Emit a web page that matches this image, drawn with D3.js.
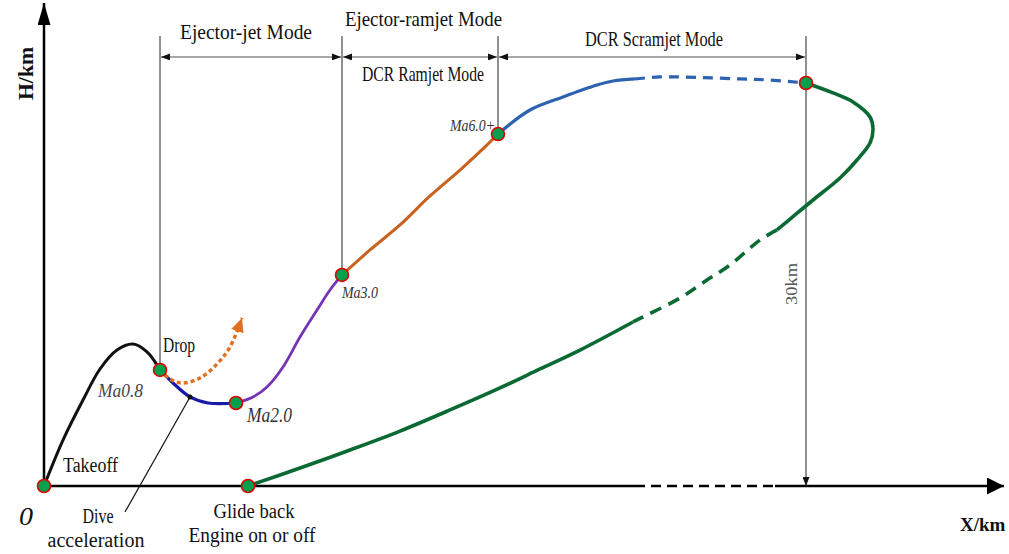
<!DOCTYPE html>
<html>
<head><meta charset="utf-8">
<title>Flight profile</title>
<style>
body { margin:0; background:#fff; }
svg text { font-family: "Liberation Serif", "DejaVu Serif", serif; fill:#111; }
</style>
</head>
<body>
<svg width="1009" height="554"></svg>
<script src="https://d3js.org/d3.v7.min.js"></script>
<script>
// trajectory pieces, each point is [X km, H km]
var climbBlack = [[0,0],[19,3.42],[39,6.40],[56,8.71],[73,10.12],[89,10.57],[103,9.98],[116,8.64]];
var diveBlue = [[116,8.64],[129,7.67],[146,6.63],[164,6.18],[192,6.18]];
var ejectorPurple = [[192,6.18],[209,6.63],[223,7.37],[239,8.86],[256,11.09],[273,13.10],[286,14.59],[298,15.71]];
var ramjetOrange = [[298,15.71],[326,17.57],[356,19.43],[386,21.59],[416,23.52],[441,25.24],[454,26.20]];
var scramSolid = [[454,26.20],[486,27.99],[519,28.96],[553,29.85],[569,30.15],[591,30.30]];
var scramDashed = [[591,30.30],[616,30.45],[656,30.41],[696,30.30],[726,30.22],[762,30.0]];
var returnSolid1 = [[762,30.0],[789,29.26],[809,28.59],[826,27.47],[829,26.50],[826,25.53],[813,24.27],[796,22.93],[769,21.29],[751,20.18],[733,19.06]];
var returnDashed = [[733,19.06],[716,18.31],[686,16.45],[663,15.33],[636,13.99],[603,12.73],[589,12.21]];
var returnSolid2 = [[589,12.21],[536,10.12],[496,8.71],[456,7.30],[406,5.66],[356,4.09],[306,2.68],[256,1.34],[204,0]];
var dropPath = [[116,8.64],[126,7.97],[138,7.67],[156,8.04],[173,9.08],[186,10.35],[198,12.51]];

// key points
var keyPoints = [[0,0],[116,8.64],[192,6.18],[298,15.71],[454,26.20],[762,30.0],[204,0]];
// mode boundaries (X km)
var modeBounds = [116, 298, 454, 762];
var modeNames = ["Ejector-jet Mode", "DCR Ramjet Mode", "DCR Scramjet Mode"];
var machLabels = ["Ma0.8", "Ma2.0", "Ma3.0", "Ma6.0+"];

var svg = d3.select("svg");
var x = d3.scaleLinear().domain([0, 960]).range([44, 1004]);
var y = d3.scaleLinear().domain([0, 30]).range([486, 83]);

var defs = svg.append("defs");
function arrowMarker(id, color, len, wid) {
  defs.append("marker").attr("id", id)
    .attr("viewBox", "0 0 10 10").attr("refX", 10).attr("refY", 5)
    .attr("markerWidth", len).attr("markerHeight", wid)
    .attr("markerUnits", "userSpaceOnUse")
    .attr("preserveAspectRatio", "none")
    .attr("orient", "auto-start-reverse")
    .append("path").attr("d", "M0,0L10,5L0,10Z").attr("fill", color);
}
arrowMarker("dim", "#111", 9, 7);
arrowMarker("xaxis", "#000", 17, 17);
arrowMarker("yaxis", "#000", 22, 13);
arrowMarker("orange", "#e0701f", 14, 13);

var line = d3.line().x(function(d) { return x(d[0]); }).y(function(d) { return y(d[1]); })
  .curve(d3.curveCatmullRom.alpha(0.5));

// axes
var xEnd = 960, yTop = 35.95;
svg.append("line").attr("x1", x(0)).attr("y1", y(0)).attr("x2", x(591)).attr("y2", y(0))
  .attr("stroke", "#000").attr("stroke-width", 2.5);
svg.append("line").attr("x1", x(591)).attr("y1", y(0)).attr("x2", x(731)).attr("y2", y(0))
  .attr("stroke", "#000").attr("stroke-width", 2.5).attr("stroke-dasharray", "10,6");
svg.append("line").attr("x1", x(731)).attr("y1", y(0)).attr("x2", x(xEnd)).attr("y2", y(0))
  .attr("stroke", "#000").attr("stroke-width", 2.5).attr("marker-end", "url(#xaxis)");
svg.append("line").attr("x1", x(0)).attr("y1", y(0)).attr("x2", x(0)).attr("y2", y(yTop))
  .attr("stroke", "#000").attr("stroke-width", 2.5).attr("marker-end", "url(#yaxis)");

// vertical mode boundaries
var guideTop = 33.5, dimH = 31.94;
modeBounds.forEach(function(b, i) {
  var kp = keyPoints.filter(function(p) { return p[0] === b; })[0];
  var last = i === modeBounds.length - 1;
  svg.append("line").attr("x1", x(b)).attr("x2", x(b))
    .attr("y1", y(guideTop)).attr("y2", last ? y(0) : y(kp[1]))
    .attr("stroke", "#222").attr("stroke-width", 1)
    .attr("marker-end", last ? "url(#dim)" : null);
});
// dimension lines
for (var i = 0; i < modeBounds.length - 1; i++) {
  svg.append("line").attr("x1", x(modeBounds[i]) + 1).attr("x2", x(modeBounds[i + 1]) - 1)
    .attr("y1", y(dimH)).attr("y2", y(dimH))
    .attr("stroke", "#8a8a8a").attr("stroke-width", 1.6)
    .attr("marker-start", "url(#dim)").attr("marker-end", "url(#dim)");
}

// trajectory
function seg(data, color, width, dash) {
  svg.append("path").datum(data).attr("d", line)
    .attr("fill", "none").attr("stroke", color).attr("stroke-width", width)
    .attr("stroke-dasharray", dash || null).attr("stroke-linecap", "butt");
}
seg(climbBlack, "#111", 3);
seg(diveBlue, "#1a1aa8", 3.2);
seg(ejectorPurple, "#7434b4", 2.8);
seg(ramjetOrange, "#c8621e", 3);
seg(scramSolid, "#2d62b0", 3.2);
seg(scramDashed, "#2d62b0", 3.2, "10,7");
seg(returnSolid1, "#0b6a34", 3.6);
seg(returnDashed, "#0b6a34", 3.6, "12,8");
seg(returnSolid2, "#0b6a34", 3.6);

svg.append("path").datum(dropPath).attr("d", line)
  .attr("fill", "none").attr("stroke", "#e0701f").attr("stroke-width", 3.5)
  .attr("stroke-dasharray", "4,3").attr("marker-end", "url(#orange)");

// dive acceleration leader
svg.append("line").attr("x1", x(146)).attr("y1", y(6.63)).attr("x2", x(81)).attr("y2", y(-1.94))
  .attr("stroke", "#111").attr("stroke-width", 1.2);
svg.append("circle").attr("cx", x(146)).attr("cy", y(6.63)).attr("r", 2.5).attr("fill", "#111");

svg.selectAll("circle.kp").data(keyPoints).enter().append("circle").attr("class", "kp")
  .attr("cx", function(d) { return x(d[0]); }).attr("cy", function(d) { return y(d[1]); })
  .attr("r", 6.5).attr("fill", "#00a04e").attr("stroke", "#e00000").attr("stroke-width", 1.6);

// labels
function label(t, px, py, size, len, o) {
  o = o || {};
  var el = svg.append("text").attr("x", px).attr("y", py).text(t)
    .attr("font-size", size).attr("text-anchor", o.anchor || "start");
  if (len) el.attr("textLength", len).attr("lengthAdjust", "spacingAndGlyphs");
  if (o.italic) el.attr("font-style", "italic");
  if (o.bold) el.attr("font-weight", "bold");
  if (o.fill) el.style("fill", o.fill);
  if (o.rotate) el.attr("transform", "rotate(-90," + px + "," + py + ")");
  return el;
}
label(modeNames[0], 180, 39, 21, 132);
label("Ejector-ramjet Mode", 345, 26, 21, 157);
label(modeNames[1], 362, 81, 21, 122);
label(modeNames[2], 585, 46, 21, 138);
label("H/km", 33, 100, 21, 53, {bold: true, rotate: true});
label("X/km", 960, 531, 19, null, {bold: true});
label("30km", 797, 305, 16, 42, {rotate: true, fill: "#555"});
label(machLabels[0], 98, 397, 19, 45, {italic: true, fill: "#444"});
label(machLabels[1], 247, 422, 20, 45, {italic: true, fill: "#333"});
label(machLabels[2], 342, 298, 16, 36, {italic: true, fill: "#333"});
label(machLabels[3], 450, 131, 16, 45, {italic: true, fill: "#333"});
label("Drop", 163, 352, 20, 32);
label("Takeoff", 63, 472, 20, 55);
label("0", 19, 525, 25, 14, {italic: true});
label("Dive", 98, 523, 20, 31, {anchor: "middle"});
label("acceleration", 96, 547, 20, 97, {anchor: "middle"});
label("Glide back", 254, 518, 20, 81, {anchor: "middle"});
label("Engine on or off", 252, 542, 20, 127, {anchor: "middle"});
</script>
</body>
</html>
